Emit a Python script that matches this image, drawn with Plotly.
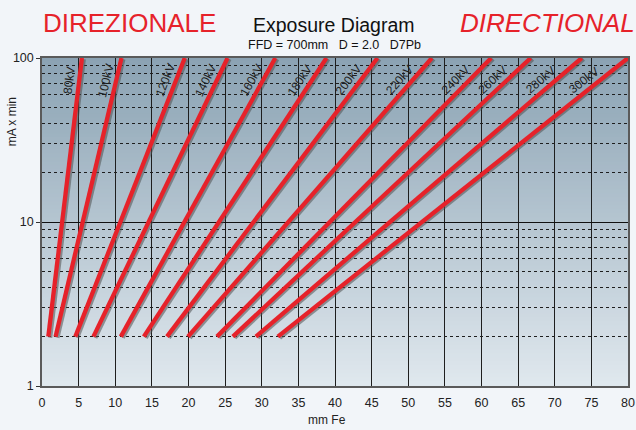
import math
import plotly.graph_objects as go

# Exposure curves: tube voltage, steel thickness (mm Fe) at 2 mA·min and at 100 mA·min
kv_labels = ["80kV", "100kV", "120kV", "140kV", "160kV", "180kV",
             "200kV", "220kV", "240kV", "260kV", "280kV", "300kV"]
mm_at_low = [0.86, 1.85, 4.55, 7.02, 10.76, 13.9, 17.06, 19.93, 23.89, 26.05, 29.2, 32.2]
mm_at_high = [5.45, 10.85, 19.49, 25.33, 31.85, 38.83, 45.8, 53.22, 61.32, 66.72, 73.68, 80.0]
ma_low = 2
ma_high = 100

x_tick_vals = list(range(0, 85, 5))
y_tick_vals = [1, 10, 100]
y_minor_vals = [2, 3, 4, 5, 6, 7, 8, 9, 20, 30, 40, 50, 60, 70, 80, 90]
label_ma = 73  # exposure level at which the kV labels sit

# Figure geometry
W, H = 636, 430
M_L, M_R, M_T, M_B = 42, 1, 58, 44
plot_w = W - M_L - M_R
plot_h = H - M_T - M_B
x_range = [0, 80]
y_range_log = [0, 2]
px_per_mm = plot_w / (x_range[1] - x_range[0])
px_per_dec = plot_h / (y_range_log[1] - y_range_log[0])

RED = "#e6222a"
SHADOW = "rgba(80,80,80,0.55)"
TXT = "#222222"
BASE_FONT = "Liberation Sans, Arial, Helvetica, sans-serif"
NARROW_FONT = "Liberation Sans Narrow, Liberation Sans, Arial, sans-serif"

fig = go.Figure()

# Shadow under each curve, nudged right/down by a couple of pixels
sx = 2.0 / px_per_mm
sy = 10 ** (-1.2 / px_per_dec)
for name, a, b in zip(kv_labels, mm_at_low, mm_at_high):
    fig.add_trace(go.Scatter(
        x=[a + sx, b + sx], y=[ma_low * sy, ma_high * sy], mode="lines",
        line=dict(color=SHADOW, width=4), hoverinfo="skip", showlegend=False))

for name, a, b in zip(kv_labels, mm_at_low, mm_at_high):
    fig.add_trace(go.Scatter(
        x=[a, b], y=[ma_low, ma_high], mode="lines", name=name,
        line=dict(color=RED, width=4.3), showlegend=False))

# kV labels running parallel to each curve, on its upper-left side
annotations = []
perp = 9.5
for name, a, b in zip(kv_labels, mm_at_low, mm_at_high):
    frac = (math.log10(label_ma) - math.log10(ma_low)) / (math.log10(ma_high) - math.log10(ma_low))
    xl = a + frac * (b - a)
    dxp = (b - a) * px_per_mm
    dyp = (math.log10(ma_high) - math.log10(ma_low)) * px_per_dec
    ang = math.degrees(math.atan2(dyp, dxp))
    shift = -perp / math.sin(math.radians(ang))
    annotations.append(dict(
        x=xl, y=math.log10(label_ma), xref="x", yref="y", text=name,
        showarrow=False, textangle=-ang, xshift=shift,
        xanchor="center", yanchor="middle",
        font=dict(family=NARROW_FONT, size=12, color="#1e1e1e")))

def py_to_paper(py):
    return (H - M_B - py) / plot_h

def px_to_paper(px):
    return (px - M_L) / plot_w

def page_text(text, px, py, size, color, family=BASE_FONT, angle=0):
    return dict(text=text, x=px_to_paper(px), y=py_to_paper(py), xref="paper", yref="paper",
                xanchor="center", yanchor="middle", showarrow=False, textangle=angle,
                font=dict(family=family, size=size, color=color))

annotations += [
    page_text("DIREZIONALE", 131, 23, 26, RED),
    page_text("<i>DIRECTIONAL</i>", 554, 23, 26, RED),
    page_text("Exposure Diagram", 337, 25, 19.5, "#111111"),
    page_text("FFD = 700mm\u00a0\u00a0\u00a0D = 2.0\u00a0\u00a0\u00a0D7Pb", 338, 45, 12.5, "#111111",
              NARROW_FONT),
    page_text("mA x min", 12, 122, 12, TXT, NARROW_FONT, -90),
    page_text("mm Fe", 330, 420, 12, TXT, NARROW_FONT),
]

# Vertical blue-grey gradient behind the grid
shapes = []
top_rgb = (138, 162, 179)
bot_rgb = (224, 232, 238)
n_bands = 82
for i in range(n_bands):
    t = (i + 0.5) / n_bands
    c = tuple(round(top_rgb[k] + (bot_rgb[k] - top_rgb[k]) * t) for k in range(3))
    shapes.append(dict(
        type="rect", xref="paper", yref="paper", layer="below",
        x0=0, x1=1, y0=1 - (i + 1) / n_bands, y1=1 - i / n_bands + 0.002,
        fillcolor="rgb(%d,%d,%d)" % c, line=dict(width=0)))

fig.update_layout(
    width=W, height=H,
    margin=dict(l=M_L, r=M_R, t=M_T, b=M_B, pad=0),
    paper_bgcolor="#f2f5f9",
    plot_bgcolor="rgb(224,232,238)",
    annotations=annotations,
    shapes=shapes,
    showlegend=False,
    xaxis=dict(
        range=x_range, tickvals=x_tick_vals, ticktext=[str(v) for v in x_tick_vals],
        showgrid=True, gridcolor="#1e1e1e", gridwidth=1,
        showline=True, mirror=True, linecolor="#5a5a5a", linewidth=1.5,
        ticks="", ticklabelstandoff=4, zeroline=False, ticklabeloverflow="allow",
        tickfont=dict(family=NARROW_FONT, size=12.5, color=TXT),
    ),
    yaxis=dict(
        type="log", range=y_range_log, tickvals=y_tick_vals,
        ticktext=[str(v) for v in y_tick_vals],
        showgrid=True, gridcolor="#111111", gridwidth=1,
        showline=True, mirror=True, linecolor="#5a5a5a", linewidth=1.5,
        ticks="outside", ticklen=4, tickcolor="#333333", tickwidth=1,
        tickfont=dict(family=NARROW_FONT, size=12.5, color=TXT),
        zeroline=False,
        minor=dict(tickvals=y_minor_vals, showgrid=True, gridcolor="#1e1e1e",
                   gridwidth=1, griddash="3px,3px", ticks=""),
    ),
)

fig.write_html("out.html")
